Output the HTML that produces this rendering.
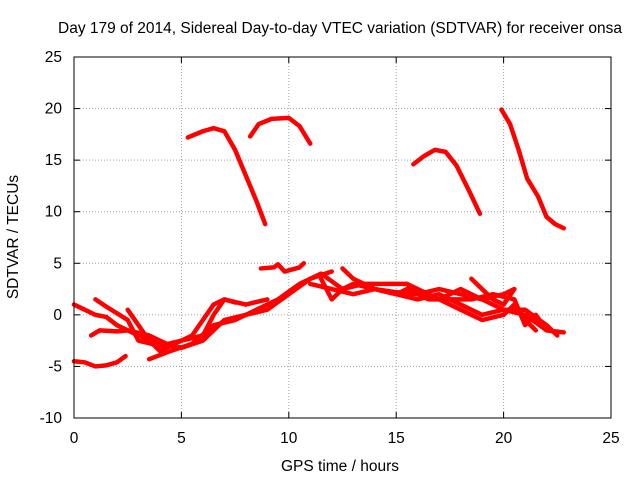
<!DOCTYPE html>
<html><head><meta charset="utf-8"><style>
body{margin:0;background:#fff;width:640px;height:480px;overflow:hidden;font-family:"Liberation Sans",sans-serif;}
svg text{font-family:"Liberation Sans",sans-serif;font-size:15.5px;fill:#000;}
</style></head><body>
<svg id="chart" width="640" height="480" xmlns="http://www.w3.org/2000/svg">
<text x="340" y="33" text-anchor="middle">Day 179 of 2014, Sidereal Day-to-day VTEC variation (SDTVAR) for receiver onsa</text>
<text x="340" y="471" text-anchor="middle">GPS time / hours</text>
<text transform="translate(18,237) rotate(-90)" text-anchor="middle">SDTVAR / TECUs</text>
<g id="grid"></g><g id="ticks"></g><g id="series"></g>
<rect x="74" y="57" width="537" height="361" fill="none" stroke="#000" stroke-width="1"/>
</svg>
<script>
const xTicks=[0,5,10,15,20,25];
const yTicks=[-10,-5,0,5,10,15,20,25];
const tracks=[
[[5.3,17.2],[6,17.8],[6.5,18.1],[7,17.8],[7.5,16],[8,13.5],[8.5,11],[8.9,8.8]],
[[8.2,17.3],[8.6,18.5],[9.2,19],[10,19.1],[10.5,18.3],[11,16.6]],
[[15.8,14.6],[16.3,15.4],[16.8,16],[17.3,15.8],[17.8,14.5],[18.4,12],[18.9,9.8]],
[[19.9,19.9],[20.3,18.5],[20.7,16],[21.1,13.2],[21.6,11.5],[22,9.5],[22.4,8.8],[22.8,8.4]],
[[8.7,4.5],[9.3,4.6],[9.5,4.9],[9.8,4.2],[10.5,4.6],[10.7,5.0]],
[[0,-4.5],[0.5,-4.6],[1,-5],[1.5,-4.9],[2,-4.6],[2.4,-4]],
[[0,1],[0.5,0.5],[1,0],[1.5,-0.2],[2,-1],[3,-2],[4,-2.8],[5,-3.2]],
[[1,1.5],[1.5,0.8],[2.5,-0.5],[3,-2.5],[4,-3],[5,-2.5],[6,-2],[6.5,0],[7,1.5],[8,1],[9,1.5]],
[[0.8,-2],[1.2,-1.5],[2,-1.6],[2.5,-1.5],[3.5,-2],[4.5,-3],[5,-3.2],[6,-2.5],[7,-0.5],[8,0],[9,0.5],[10,2],[11,3.5],[12,4.2]],
[[2.5,0.5],[3,-1],[3.5,-2.5],[4,-3.5],[4.5,-3],[5,-2.5],[5.5,-2],[6,-0.5],[6.5,1],[7,1.5],[7.5,1.2]],
[[3.5,-4.3],[4.5,-3.5],[5.5,-2.8],[6.5,-1],[7.5,-0.5],[8.5,0.5],[9.5,1.5],[10.5,3],[11.5,4],[12.5,2.5],[13,3],[14,2.5],[15,2.2],[16,2],[17,1.5],[18,2.5],[19,1.5],[20,0.5],[21,0],[22,-1.5],[22.8,-1.7]],
[[11,3],[12,2.5],[13,2],[14,2.5],[15,2],[16,1.5],[17,2],[18,1],[19,0],[20,0.5],[21,0.5],[22,-1],[22.5,-2]],
[[11.5,3.5],[12,1.5],[12.5,2.5],[13.5,3],[14.5,3],[15.5,3],[16,2],[17,2.5],[18,2],[19,1.5],[20,2],[20.5,2.5]],
[[12.5,4.5],[13,3.5],[14,2.5],[15,2],[15.5,2.5],[16.5,1.5],[17.5,1.5],[18.5,1.5],[19.5,2],[20.5,1.5],[21,-1],[21.5,0],[22,-1.5]],
[[15.5,3],[16,2.5],[17,1.5],[18,0.5],[19,-0.5],[20,0],[20.5,1],[21,-0.5],[21.5,-1.5]],
[[18.5,3.5],[19,2.5],[19.5,1.5],[20,1],[20.5,2.5]]
];
const X=v=>74+v*(537/25), Y=v=>418-(v+10)*(361/35);
const NS="http://www.w3.org/2000/svg";
const grid=document.getElementById('grid'),ticks=document.getElementById('ticks'),ser=document.getElementById('series');
function mk(t,a,p){const e=document.createElementNS(NS,t);for(const k in a)e.setAttribute(k,a[k]);p.appendChild(e);return e;}
xTicks.forEach(v=>{
 if(v>0&&v<25){const g=mk('line',{x1:X(v),x2:X(v),y1:57,y2:418,stroke:'#a0a0a0','stroke-dasharray':'1,2'},grid);
 
 }
 mk('line',{x1:X(v),x2:X(v),y1:418,y2:412,stroke:'#000'},ticks);
 mk('line',{x1:X(v),x2:X(v),y1:57,y2:63,stroke:'#000'},ticks);
 const t=mk('text',{x:X(v),y:443,'text-anchor':'middle'},ticks);t.textContent=v;
 
 
});
yTicks.forEach(v=>{
 if(v>-10&&v<25){const g=mk('line',{x1:74,x2:611,y1:Y(v),y2:Y(v),stroke:'#a0a0a0','stroke-dasharray':'1,2'},grid);
 
 }
 mk('line',{x1:74,x2:80,y1:Y(v),y2:Y(v),stroke:'#000'},ticks);
 mk('line',{x1:611,x2:605,y1:Y(v),y2:Y(v),stroke:'#000'},ticks);
 const t=mk('text',{x:62,y:Y(v)+5,'text-anchor':'end'},ticks);t.textContent=v;
 
 
});
tracks.forEach(tr=>{
 const p=mk('polyline',{points:tr.map(d=>X(d[0])+','+Y(d[1])).join(' '),fill:'none',stroke:'#f00','stroke-width':4.5,'stroke-linejoin':'round','stroke-linecap':'round'},ser);
 
 
});
</script>
</body></html>
